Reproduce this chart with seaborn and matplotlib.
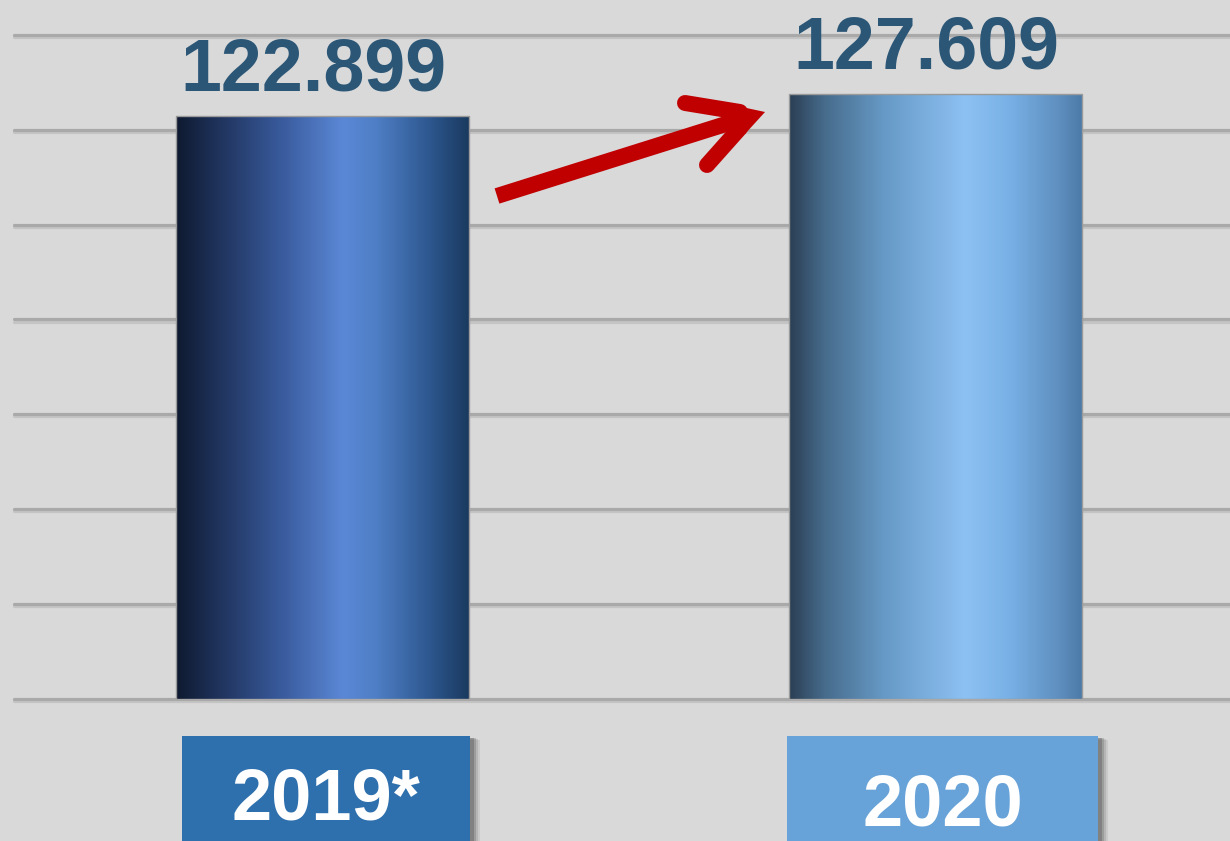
import numpy as np
import pandas as pd
import matplotlib
matplotlib.use("Agg")
import matplotlib.pyplot as plt
import matplotlib.patheffects as pe
from matplotlib.colors import LinearSegmentedColormap
from matplotlib.patches import Rectangle
import matplotlib.transforms as mtransforms
import seaborn as sns

# ---- data ----
categories = ["2019*", "2020"]
values = [122.899, 127.609]
value_labels = ["122.899", "127.609"]
yticks = [0, 20, 40, 60, 80, 100, 120, 140]

bar_gradients = [
    [(0.0, "#0e1a30"), (0.12, "#1d2f55"), (0.35, "#38599a"), (0.57, "#5b88d6"),
     (0.68, "#4f7fc6"), (0.86, "#2e5890"), (1.0, "#1a3a5f")],
    [(0.0, "#2b3f54"), (0.12, "#476c8c"), (0.32, "#6699c5"), (0.60, "#8dc1f3"),
     (0.75, "#79b1e6"), (0.93, "#5d8dbd"), (1.0, "#4c7aa8")],
]
box_colors = ["#2e6fad", "#67a3d8"]
box_spans = [(-0.229, 0.241), (0.758, 1.264)]

sns.set_theme(style="white")
plt.rcParams["font.family"] = ["Liberation Sans", "DejaVu Sans"]

W, H = 1230, 841
fig = plt.figure(figsize=(W / 100, H / 100), dpi=100, facecolor="#d9d9d9")
ax = fig.add_axes([14 / W, 142 / H, (W - 14) / W, 1 - 142 / H])
ax.set_facecolor("#d9d9d9")

df = pd.DataFrame({"year": categories, "value": values})
sns.barplot(data=df, x="year", y="value", ax=ax, width=0.478,
            color="#5b88d6", edgecolor="#9a9a9a", linewidth=1.0, zorder=3)

ax.set_xlim(-0.503, 1.480)
ax.set_ylim(0, 147.35)
ax.set_yticks(yticks)
ax.yaxis.grid(True, color="#a9a9a9", linewidth=2.3, zorder=0)
for gl in ax.get_ygridlines():
    gl.set_clip_on(False)
    gl.set_path_effects([pe.SimpleLineShadow(offset=(0, -1.5), shadow_color="#c4c4c4", alpha=1),
                         pe.Normal()])
ax.set_axisbelow(True)
for s in ax.spines.values():
    s.set_visible(False)
ax.set_xlabel("")
ax.set_ylabel("")
ax.tick_params(left=False, bottom=False, labelleft=False, labelbottom=False)

# gradient fills
for patch, stops in zip(ax.patches, bar_gradients):
    x0, w, h = patch.get_x(), patch.get_width(), patch.get_height()
    cmap = LinearSegmentedColormap.from_list("g", stops)
    grad = np.linspace(0, 1, 400).reshape(1, -1)
    im = ax.imshow(grad, cmap=cmap, extent=[x0, x0 + w, 0, h], aspect="auto",
                   zorder=2.5, interpolation="bicubic")
    im.set_clip_path(patch)
    patch.set_facecolor("none")

# value labels
for patch, lab in zip(ax.patches, value_labels):
    cx = patch.get_x() + patch.get_width() / 2
    ax.annotate(lab, (cx, patch.get_height()), xytext=(-6.5, 18),
                textcoords="offset points", ha="center", va="baseline",
                fontsize=53, fontweight="bold", color="#2b5676", zorder=5)

# category boxes below
trans = mtransforms.blended_transform_factory(ax.transData, fig.transFigure)
box_top = 1 - 736 / H
for (xa, xb), col, cat, base in zip(box_spans, box_colors, categories, [820, 825]):
    for dx, a in [(10, 0.10), (8, 0.15), (6, 0.22), (4, 0.3)]:
        sh = Rectangle((xa + dx / 613, -0.1), xb - xa, box_top + 0.1 - dx / H * 0.4,
                       transform=trans, facecolor="#444444", alpha=a, lw=0,
                       clip_on=False, zorder=4)
        ax.add_patch(sh)
    r = Rectangle((xa, -0.1), xb - xa, box_top + 0.1, transform=trans,
                  facecolor=col, edgecolor="none", clip_on=False, zorder=5)
    ax.add_patch(r)
    ax.text((xa + xb) / 2, 1 - base / H, cat, transform=trans, ha="center",
            va="baseline", fontsize=52, fontweight="bold", color="white",
            zorder=6, clip_on=False)

# red arrow (decoration, figure pixel coordinates)
def fp(x, y):
    return (x / W, 1 - y / H)

RED = "#c00000"
def seg(p, q, cap):
    a, b = fp(*p), fp(*q)
    ln = plt.Line2D([a[0], b[0]], [a[1], b[1]], transform=fig.transFigure, color=RED,
                    linewidth=11.5, solid_capstyle=cap, zorder=10)
    fig.add_artist(ln)

seg((497, 196), (745, 118), "butt")
seg((685, 103), (740, 112), "round")
seg((707, 165), (740, 128), "round")
tri = plt.Polygon([fp(765, 112), fp(735, 105.5), fp(731, 120), fp(745, 134)], closed=True,
                  transform=fig.transFigure, color=RED, zorder=10, lw=0)
fig.add_artist(tri)

fig.savefig("out.png", dpi=100, facecolor=fig.get_facecolor())
